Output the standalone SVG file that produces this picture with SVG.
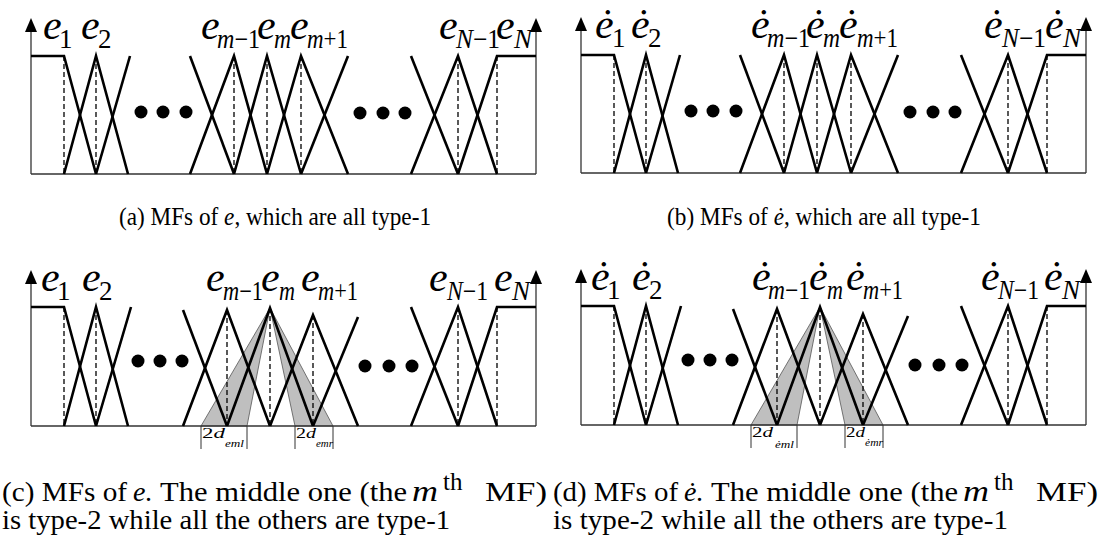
<svg xmlns="http://www.w3.org/2000/svg" xmlns:xlink="http://www.w3.org/1999/xlink" width="1102" height="546" viewBox="0 0 1102 546">
<style>
.mf{stroke:#000;stroke-width:2.6;fill:none;stroke-linejoin:miter;stroke-miterlimit:20}
.dash{stroke:#000;stroke-width:1.3;stroke-dasharray:5 3;fill:none}
.axis{stroke:#333;stroke-width:1.3;fill:none}
.thin{stroke:#333;stroke-width:1;fill:none}
.head{fill:#000}
.dot{fill:#000}
.shade{fill:#bfbfbf;stroke:#555;stroke-width:0.8}
.lbl{font-family:"Liberation Serif","Times New Roman",serif;font-style:italic;font-size:42px;fill:#000}
.sub{font-family:"Liberation Serif","Times New Roman",serif;font-size:27px;fill:#000}
.it{font-style:italic}
.br{font-family:"Liberation Serif","Times New Roman",serif;font-size:14px;fill:#000}
.brs{font-family:"Liberation Serif","Times New Roman",serif;font-style:italic;font-size:10px;fill:#000}
.cap{font-family:"Liberation Serif","Times New Roman",serif;fill:#000}
</style>
<defs>
<g id="shapesA">
<line class="axis" x1="31" y1="174" x2="31" y2="30"/>
<polygon class="head" points="31,18 25,32 37,32"/>
<line class="axis" x1="536" y1="174" x2="536" y2="30"/>
<polygon class="head" points="536,18 530,32 542,32"/>
<line class="axis" x1="31" y1="174" x2="536" y2="174"/>
<g class="dash">
<line x1="64" y1="56" x2="64" y2="174"/><line x1="96" y1="56" x2="96" y2="174"/>
<line x1="234" y1="56" x2="234" y2="174"/><line x1="267" y1="56" x2="267" y2="174"/>
<line x1="301" y1="56" x2="301" y2="174"/><line x1="458" y1="56" x2="458" y2="174"/>
<line x1="497" y1="56" x2="497" y2="174"/>
</g>
<g class="mf">
<polyline points="31,56 64,56 96,174"/>
<polyline points="64,174 96,56 128,174"/>
<line x1="96" y1="174" x2="130" y2="56"/>
<line x1="190" y1="56" x2="234" y2="174"/>
<polyline points="190,174 234,56 267,174"/>
<polyline points="234,174 267,56 301,174"/>
<polyline points="267,174 301,56 348,174"/>
<line x1="301" y1="174" x2="348" y2="56"/>
<line x1="411" y1="56" x2="458" y2="174"/>
<polyline points="411,174 458,56 497,174"/>
<polyline points="458,174 497,56 536,56"/>
</g>
<circle class="dot" cx="141" cy="112" r="6.5"/><circle class="dot" cx="163" cy="112" r="6.5"/><circle class="dot" cx="186" cy="112" r="6.5"/>
<circle class="dot" cx="360" cy="113" r="6.5"/><circle class="dot" cx="383" cy="113" r="6.5"/><circle class="dot" cx="405" cy="113" r="6.5"/>
</g>
<g id="shapesC">
<polygon class="shade" points="270,308 201,426 247,426"/>
<polygon class="shade" points="270,308 295,426 333,426"/>
<line class="axis" x1="31" y1="426" x2="31" y2="282"/>
<polygon class="head" points="31,270 25,284 37,284"/>
<line class="axis" x1="536" y1="426" x2="536" y2="282"/>
<polygon class="head" points="536,270 530,284 542,284"/>
<line class="axis" x1="31" y1="426" x2="536" y2="426"/>
<g class="dash">
<line x1="64" y1="307" x2="64" y2="426"/><line x1="96" y1="307" x2="96" y2="426"/>
<line x1="227" y1="310" x2="227" y2="426"/><line x1="270" y1="308" x2="270" y2="426"/>
<line x1="313" y1="315" x2="313" y2="426"/><line x1="458" y1="307" x2="458" y2="426"/>
<line x1="497" y1="307" x2="497" y2="426"/>
</g>
<g class="mf">
<polyline points="31,307 64,307 96,426"/>
<polyline points="64,426 96,307 128,426"/>
<line x1="96" y1="426" x2="131" y2="307"/>
<line x1="183" y1="310" x2="227" y2="426"/>
<polyline points="183,426 227,310 270,426"/>
<polyline points="227,426 270,308 313,426"/>
<polyline points="270,426 313,315 358,426"/>
<line x1="313" y1="426" x2="358" y2="317"/>
<line x1="411" y1="307" x2="458" y2="426"/>
<polyline points="411,426 458,307 497,426"/>
<polyline points="458,426 497,307 536,307"/>
</g>
<circle class="dot" cx="138" cy="361" r="6.5"/><circle class="dot" cx="160" cy="361" r="6.5"/><circle class="dot" cx="182" cy="361" r="6.5"/>
<circle class="dot" cx="365" cy="366" r="6.5"/><circle class="dot" cx="389" cy="366" r="6.5"/><circle class="dot" cx="412" cy="366" r="6.5"/>
<g class="thin">
<line x1="201" y1="426" x2="201" y2="449"/><line x1="247" y1="426" x2="247" y2="449"/>
<line x1="295" y1="426" x2="295" y2="449"/><line x1="333" y1="426" x2="333" y2="449"/>
</g>
</g>
</defs>

<g id="panel-a">
<use xlink:href="#shapesA" href="#shapesA"/>
<g id="a-e1"><text class="lbl" x="43" y="39">e</text><text class="sub" x="59" y="48">1</text></g>
<g id="a-e2"><text class="lbl" x="81" y="39">e</text><text class="sub" x="98" y="48">2</text></g>
<g id="a-em1"><text class="lbl" x="201" y="39">e</text><text class="sub" x="217" y="48" textLength="43" lengthAdjust="spacingAndGlyphs"><tspan class="it">m</tspan>−1</text></g>
<g id="a-em"><text class="lbl" x="257" y="39">e</text><text class="sub it" x="274" y="48" textLength="17" lengthAdjust="spacingAndGlyphs">m</text></g>
<g id="a-em2"><text class="lbl" x="290" y="39">e</text><text class="sub" x="307" y="48" textLength="41" lengthAdjust="spacingAndGlyphs"><tspan class="it">m</tspan>+1</text></g>
<g id="a-eN1"><text class="lbl" x="439" y="39">e</text><text class="sub" x="456" y="48" textLength="44" lengthAdjust="spacingAndGlyphs"><tspan class="it">N</tspan>−1</text></g>
<g id="a-eN"><text class="lbl" x="496" y="39">e</text><text class="sub it" x="514" y="48">N</text></g>
</g>

<g id="panel-b">
<use xlink:href="#shapesA" href="#shapesA" x="550" y="-1"/>
<g id="b-e1"><text class="lbl" x="595" y="38">ė</text><text class="sub" x="612" y="47">1</text></g>
<g id="b-e2"><text class="lbl" x="631" y="38">ė</text><text class="sub" x="648" y="47">2</text></g>
<g id="b-em1"><text class="lbl" x="751" y="38">ė</text><text class="sub" x="767" y="47" textLength="43" lengthAdjust="spacingAndGlyphs"><tspan class="it">m</tspan>−1</text></g>
<g id="b-em"><text class="lbl" x="806" y="38">ė</text><text class="sub it" x="823" y="47" textLength="17" lengthAdjust="spacingAndGlyphs">m</text></g>
<g id="b-em2"><text class="lbl" x="839" y="38">ė</text><text class="sub" x="857" y="47" textLength="41" lengthAdjust="spacingAndGlyphs"><tspan class="it">m</tspan>+1</text></g>
<g id="b-eN1"><text class="lbl" x="984" y="38">ė</text><text class="sub" x="1002" y="47" textLength="44" lengthAdjust="spacingAndGlyphs"><tspan class="it">N</tspan>−1</text></g>
<g id="b-eN"><text class="lbl" x="1045" y="38">ė</text><text class="sub it" x="1063" y="47">N</text></g>
</g>

<g id="panel-c">
<use xlink:href="#shapesC" href="#shapesC"/>
<g id="c-e1"><text class="lbl" x="41" y="291">e</text><text class="sub" x="57" y="300">1</text></g>
<g id="c-e2"><text class="lbl" x="82" y="291">e</text><text class="sub" x="99" y="300">2</text></g>
<g id="c-em1"><text class="lbl" x="206" y="291">e</text><text class="sub" x="223" y="300" textLength="40" lengthAdjust="spacingAndGlyphs"><tspan class="it">m</tspan>−1</text></g>
<g id="c-em"><text class="lbl" x="261" y="291">e</text><text class="sub it" x="279" y="300" textLength="16" lengthAdjust="spacingAndGlyphs">m</text></g>
<g id="c-em2"><text class="lbl" x="301" y="291">e</text><text class="sub" x="318" y="300" textLength="40" lengthAdjust="spacingAndGlyphs"><tspan class="it">m</tspan>+1</text></g>
<g id="c-eN1"><text class="lbl" x="429" y="291">e</text><text class="sub" x="447" y="300" textLength="41" lengthAdjust="spacingAndGlyphs"><tspan class="it">N</tspan>−1</text></g>
<g id="c-eN"><text class="lbl" x="494" y="291">e</text><text class="sub it" x="512" y="300">N</text></g>
<g id="c-dl"><text class="br" x="202" y="438" textLength="23" lengthAdjust="spacingAndGlyphs">2<tspan class="it">d</tspan></text><text class="brs" x="225" y="447" textLength="19" lengthAdjust="spacingAndGlyphs">eml</text></g>
<g id="c-dr"><text class="br" x="296" y="438" textLength="20" lengthAdjust="spacingAndGlyphs">2<tspan class="it">d</tspan></text><text class="brs" x="316" y="447" textLength="17" lengthAdjust="spacingAndGlyphs">emr</text></g>
</g>

<g id="panel-d">
<use xlink:href="#shapesC" href="#shapesC" x="550" y="-1"/>
<g id="d-e1"><text class="lbl" x="591" y="290">ė</text><text class="sub" x="607" y="299">1</text></g>
<g id="d-e2"><text class="lbl" x="632" y="290">ė</text><text class="sub" x="649" y="299">2</text></g>
<g id="d-em1"><text class="lbl" x="752" y="290">ė</text><text class="sub" x="768" y="299" textLength="42" lengthAdjust="spacingAndGlyphs"><tspan class="it">m</tspan>−1</text></g>
<g id="d-em"><text class="lbl" x="809" y="290">ė</text><text class="sub it" x="827" y="299" textLength="16" lengthAdjust="spacingAndGlyphs">m</text></g>
<g id="d-em2"><text class="lbl" x="846" y="290">ė</text><text class="sub" x="863" y="299" textLength="40" lengthAdjust="spacingAndGlyphs"><tspan class="it">m</tspan>+1</text></g>
<g id="d-eN1"><text class="lbl" x="981" y="290">ė</text><text class="sub" x="998" y="299" textLength="41" lengthAdjust="spacingAndGlyphs"><tspan class="it">N</tspan>−1</text></g>
<g id="d-eN"><text class="lbl" x="1044" y="290">ė</text><text class="sub it" x="1062" y="299">N</text></g>
<g id="d-dl"><text class="br" x="752" y="437" textLength="21" lengthAdjust="spacingAndGlyphs">2<tspan class="it">d</tspan></text><text class="brs" x="775" y="448" textLength="19" lengthAdjust="spacingAndGlyphs">ėml</text></g>
<g id="d-dr"><text class="br" x="846" y="437" textLength="19" lengthAdjust="spacingAndGlyphs">2<tspan class="it">d</tspan></text><text class="brs" x="865" y="446" textLength="18" lengthAdjust="spacingAndGlyphs">ėmr</text></g>
</g>

<g id="captions">
<text class="cap" x="119" y="225" font-size="25" textLength="312" lengthAdjust="spacingAndGlyphs">(a) MFs of <tspan class="it">e</tspan>, which are all type-1</text>
<text class="cap" x="667" y="225" font-size="25" textLength="314" lengthAdjust="spacingAndGlyphs">(b) MFs of <tspan class="it">ė</tspan>, which are all type-1</text>
<text class="cap" x="2" y="501" font-size="28" textLength="125" lengthAdjust="spacingAndGlyphs">(c) MFs of</text>
<text class="cap it" x="133" y="501" font-size="28">e</text>
<text class="cap" x="145" y="501" font-size="28">.</text>
<text class="cap" x="160" y="501" font-size="28" textLength="247" lengthAdjust="spacingAndGlyphs">The middle one (the</text>
<text class="cap it" x="412" y="501" font-size="29" textLength="26" lengthAdjust="spacingAndGlyphs">m</text>
<text class="cap" x="443" y="490" font-size="25">th</text>
<text class="cap" x="485" y="501" font-size="28" textLength="62" lengthAdjust="spacingAndGlyphs">MF)</text>
<text class="cap" x="2" y="529" font-size="28" textLength="448" lengthAdjust="spacingAndGlyphs">is type-2 while all the others are type-1</text>
<text class="cap" x="553" y="501" font-size="28" textLength="125" lengthAdjust="spacingAndGlyphs">(d) MFs of</text>
<text class="cap it" x="684" y="501" font-size="28">ė</text>
<text class="cap" x="696" y="501" font-size="28">.</text>
<text class="cap" x="711" y="501" font-size="28" textLength="247" lengthAdjust="spacingAndGlyphs">The middle one (the</text>
<text class="cap it" x="963" y="501" font-size="29" textLength="26" lengthAdjust="spacingAndGlyphs">m</text>
<text class="cap" x="994" y="490" font-size="25">th</text>
<text class="cap" x="1036" y="501" font-size="28" textLength="62" lengthAdjust="spacingAndGlyphs">MF)</text>
<text class="cap" x="553" y="529" font-size="28" textLength="455" lengthAdjust="spacingAndGlyphs">is type-2 while all the others are type-1</text>
</g>
</svg>
